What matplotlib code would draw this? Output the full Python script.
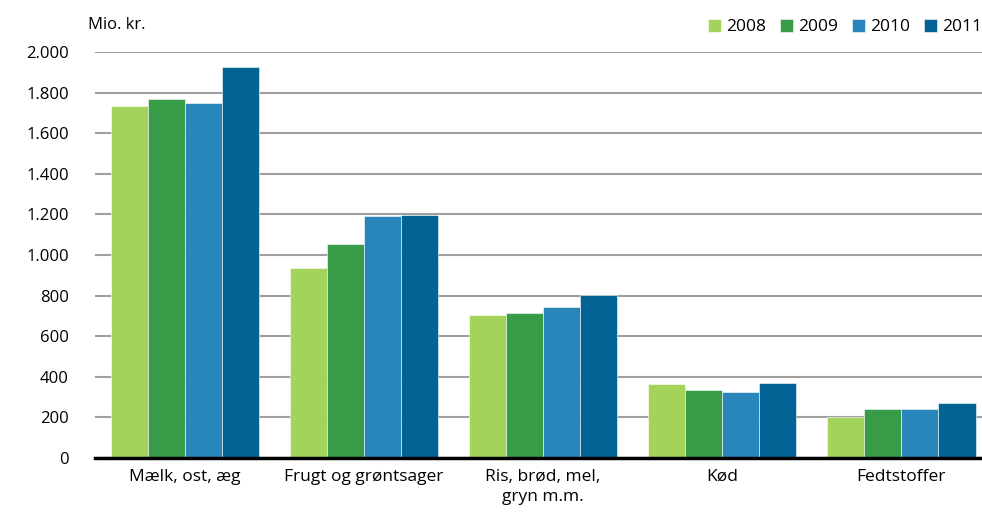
import numpy as np
import matplotlib
matplotlib.use("Agg")
import matplotlib.pyplot as plt

categories = ["Mælk, ost, æg", "Frugt og grøntsager", "Ris, brød, mel,\ngryn m.m.", "Kød", "Fedtstoffer"]
years = ["2008", "2009", "2010", "2011"]
v2008 = [1735, 935, 706, 363, 204]
v2009 = [1767, 1054, 714, 337, 243]
v2010 = [1750, 1193, 745, 326, 243]
v2011 = [1925, 1197, 804, 367, 271]
colors = ["#a3d35a", "#379b48", "#2986bb", "#036394"]
yticks = [0, 200, 400, 600, 800, 1000, 1200, 1400, 1600, 1800, 2000]

plt.rcParams["font.family"] = ["Open Sans", "DejaVu Sans"]

fig = plt.figure(figsize=(9.82, 5.21), dpi=100)
ax = fig.add_axes([0.097, 0.121, 0.903, 0.779])

x = np.arange(len(categories))
w = 0.207
series = [v2008, v2009, v2010, v2011]
for i, (vals, c, yr) in enumerate(zip(series, colors, years)):
    ax.bar(x + (i - 1.5) * w, vals, w, color=c, label=yr,
           edgecolor="white", linewidth=0.4, zorder=3)

ax.set_ylim(0, 2000)
ax.set_xlim(-0.5, 4.45)
ax.set_yticks(yticks)
ax.set_yticklabels([f"{t:,}".replace(",", ".") for t in yticks], fontsize=12)
ax.yaxis.grid(True, color="#a0a0a0", linewidth=1.5, zorder=0)
ax.set_axisbelow(True)
ax.set_xticks(x)
ax.set_xticklabels(categories, fontsize=12.5, linespacing=1.3)
ax.tick_params(axis="both", length=0)
ax.tick_params(axis="y", pad=19)
ax.tick_params(axis="x", pad=8)
for s in ["left", "right", "top"]:
    ax.spines[s].set_visible(False)
ax.spines["bottom"].set_linewidth(2.5)
ax.spines["bottom"].set_color("black")
ax.spines["bottom"].set_zorder(4)

fig.text(0.09, 0.952, "Mio. kr.", fontsize=12, va="center")
fig.legend(loc="center right", bbox_to_anchor=(1.0, 0.948), ncol=4, frameon=False,
           fontsize=12.5, handlelength=0.75, handleheight=0.75, handletextpad=0.3,
           columnspacing=0.8, borderaxespad=0, borderpad=0)

fig.savefig("out.png", dpi=100)
